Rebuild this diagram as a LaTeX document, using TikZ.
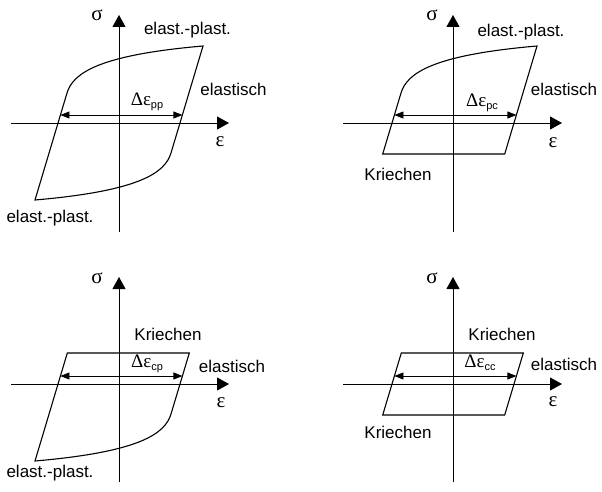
\documentclass[tikz,border=0pt]{standalone}
\usepackage{fontspec}
\setmainfont{Liberation Sans}
\newfontfamily\greekfont{Liberation Serif}
\usetikzlibrary{arrows.meta}

% sigma-epsilon hysteresis loops for the four strain-range components
\tikzset{
  axisline/.style={line width=0.9pt, -{Triangle[length=12pt,width=13pt]}},
  loopline/.style={line width=1.1pt, line join=miter},
  rangearrow/.style={line width=0.7pt,
    {Triangle[length=9pt,width=7pt]}-{Triangle[length=9pt,width=7pt]}},
  lbl/.style={font=\fontsize{17}{20}\selectfont, inner sep=0pt},
  greeklbl/.style={font=\greekfont\fontsize{21}{24}\selectfont, inner sep=0pt},
}
\newcommand{\drange}[1]{{\greekfont\fontsize{19}{22}\selectfont Δε}\raisebox{-3pt}{\fontsize{11}{12}\selectfont #1}}

\begin{document}
\begin{tikzpicture}[x=1pt,y=1pt]
\useasboundingbox (0,0) rectangle (602,491);

% ---------------- top left: pp ----------------
\begin{scope}[shift={(119,368)}, name prefix=pp-]
  \coordinate (xl) at (-108,0); \coordinate (xr) at (110,0);
  \coordinate (yb) at (0,-109); \coordinate (yt) at (0,108);
  \draw[axisline] (xl) -- (xr);
  \draw[axisline] (yb) -- (yt);
  \coordinate (A) at (84,77);  \coordinate (B) at (52,-30);
  \coordinate (C) at (-84,-77); \coordinate (D) at (-52,30);
  \draw[loopline] (C) -- (D) .. controls (-46,50) and (-20,68) .. (A)
    -- (B) .. controls (46,-50) and (20,-68) .. (C) -- cycle;
  \coordinate (L) at (-58.6,8); \coordinate (R) at (63.4,8);
  \draw[rangearrow] (L) -- (R);
  \node[greeklbl] (sig) at (-22,108) {σ};
  \node[greeklbl] (eps) at (101,-19) {ε};
  \node[lbl] (t1) at (68.5,93) {elast.-plast.};
  \node[lbl] (t2) at (114.5,34) {elastisch};
  \node[lbl] (t3) at (-69,-95) {elast.-plast.};
  \node[inner sep=0pt] (dr) at (28,21) {\drange{pp}};
\end{scope}

% ---------------- top right: pc ----------------
\begin{scope}[shift={(453,368)}, name prefix=pc-]
  \coordinate (xl) at (-110,0); \coordinate (xr) at (109,0);
  \coordinate (yb) at (0,-109); \coordinate (yt) at (0,108);
  \draw[axisline] (xl) -- (xr);
  \draw[axisline] (yb) -- (yt);
  \coordinate (A) at (84,77);  \coordinate (B) at (51.7,-31);
  \coordinate (C) at (-70.3,-31); \coordinate (D) at (-52,30);
  \draw[loopline] (C) -- (D) .. controls (-46,50) and (-20,68) .. (A)
    -- (B) -- (C) -- cycle;
  \coordinate (L) at (-58.6,8); \coordinate (R) at (63.4,8);
  \draw[rangearrow] (L) -- (R);
  \node[greeklbl] (sig) at (-21,108) {σ};
  \node[greeklbl] (eps) at (100,-20) {ε};
  \node[lbl] (t1) at (68,91) {elast.-plast.};
  \node[lbl] (t2) at (111,34) {elastisch};
  \node[lbl] (t3) at (-55,-51) {Kriechen};
  \node[inner sep=0pt] (dr) at (29,20) {\drange{pc}};
\end{scope}

% ---------------- bottom left: cp ----------------
\begin{scope}[shift={(119,107)}, name prefix=cp-]
  \coordinate (xl) at (-108,0); \coordinate (xr) at (110,0);
  \coordinate (yb) at (0,-98); \coordinate (yt) at (0,107);
  \draw[axisline] (xl) -- (xr);
  \draw[axisline] (yb) -- (yt);
  \coordinate (A) at (70.3,31);  \coordinate (B) at (52,-30);
  \coordinate (C) at (-84,-77); \coordinate (D) at (-51.7,31);
  \draw[loopline] (C) -- (D) -- (A)
    -- (B) .. controls (46,-50) and (20,-68) .. (C) -- cycle;
  \coordinate (L) at (-58.6,8); \coordinate (R) at (63.4,8);
  \draw[rangearrow] (L) -- (R);
  \node[greeklbl] (sig) at (-22,106) {σ};
  \node[greeklbl] (eps) at (102,-19) {ε};
  \node[lbl] (t1) at (49,50) {Kriechen};
  \node[lbl] (t2) at (113,18) {elastisch};
  \node[lbl] (t3) at (-69,-89) {elast.-plast.};
  \node[inner sep=0pt] (dr) at (28,20) {\drange{cp}};
\end{scope}

% ---------------- bottom right: cc ----------------
\begin{scope}[shift={(453,107)}, name prefix=cc-]
  \coordinate (xl) at (-110,0); \coordinate (xr) at (109,0);
  \coordinate (yb) at (0,-98); \coordinate (yt) at (0,107);
  \draw[axisline] (xl) -- (xr);
  \draw[axisline] (yb) -- (yt);
  \coordinate (A) at (70.3,31);  \coordinate (B) at (51.7,-31);
  \coordinate (C) at (-70.3,-31); \coordinate (D) at (-51.7,31);
  \draw[loopline] (C) -- (D) -- (A) -- (B) -- (C) -- cycle;
  \coordinate (L) at (-58.6,8); \coordinate (R) at (63.4,8);
  \draw[rangearrow] (L) -- (R);
  \node[greeklbl] (sig) at (-21,106) {σ};
  \node[greeklbl] (eps) at (100,-18) {ε};
  \node[lbl] (t1) at (49,50) {Kriechen};
  \node[lbl] (t2) at (111,20) {elastisch};
  \node[lbl] (t3) at (-55,-48) {Kriechen};
  \node[inner sep=0pt] (dr) at (27,21) {\drange{cc}};
\end{scope}
\end{tikzpicture}
\end{document}
